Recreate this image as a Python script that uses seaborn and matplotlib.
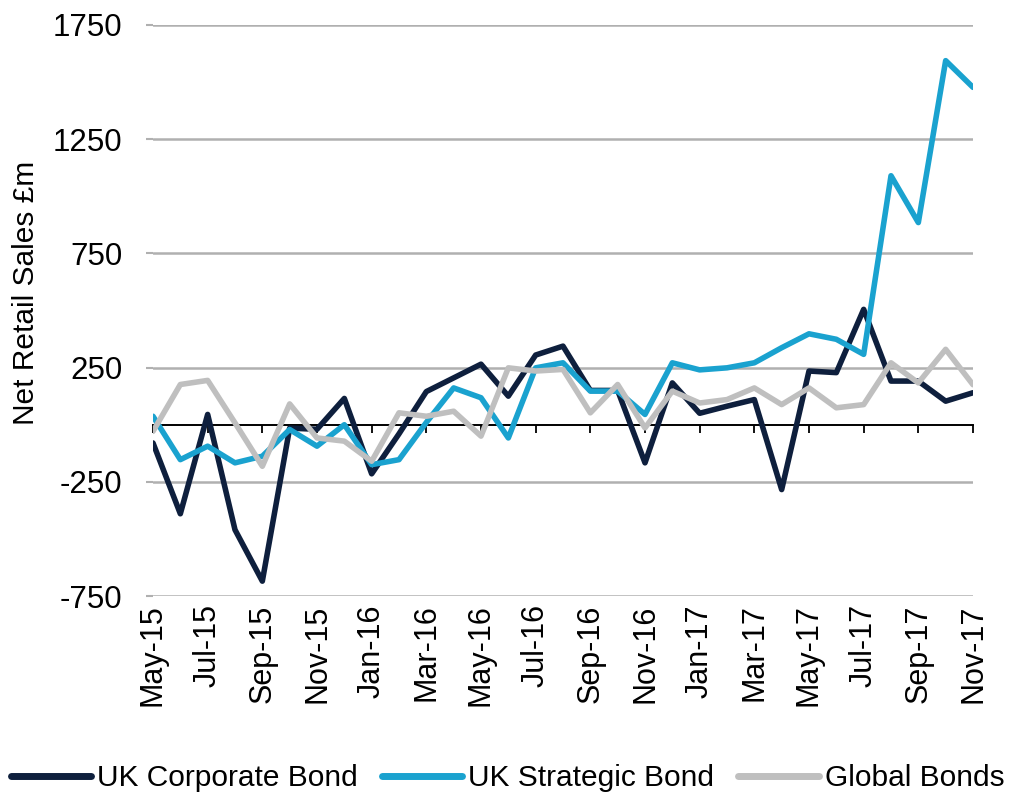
import numpy as np
import pandas as pd
import matplotlib
matplotlib.use("Agg")
import matplotlib.pyplot as plt
import seaborn as sns

months = ["May-15", "Jun-15", "Jul-15", "Aug-15", "Sep-15", "Oct-15", "Nov-15", "Dec-15",
          "Jan-16", "Feb-16", "Mar-16", "Apr-16", "May-16", "Jun-16", "Jul-16", "Aug-16",
          "Sep-16", "Oct-16", "Nov-16", "Dec-16", "Jan-17", "Feb-17", "Mar-17", "Apr-17",
          "May-17", "Jun-17", "Jul-17", "Aug-17", "Sep-17", "Oct-17", "Nov-17"]

uk_corporate = [-80, -390, 45, -460, -685, -15, -20, 115, -215, -40, 145, 205, 265, 125, 305, 344,
                150, 150, -167, 183, 50, 81, 110, -284, 235, 228, 505, 191, 191, 103, 140]
uk_strategic = [37, -153, -94, -167, -138, -21, -94, 0, -175, -153, 10, 161, 118, -58, 249, 271,
                147, 147, 45, 271, 240, 249, 271, 337, 398, 374, 308, 1090, 885, 1594, 1477]
global_bonds = [-29, 176, 194, 8, -182, 91, -58, -72, -160, 52, 37, 59, -50, 249, 235, 242,
                52, 176, -14, 147, 95, 110, 161, 88, 161, 74, 88, 271, 183, 330, 175]

series_names = ["UK Corporate Bond", "UK Strategic Bond", "Global Bonds"]
colors = {"UK Corporate Bond": "#0e1f3d", "UK Strategic Bond": "#1aa2cf", "Global Bonds": "#bfbfbf"}
y_ticks = [-750, -250, 250, 750, 1250, 1750]

rows = []
for name, vals in zip(series_names, [uk_corporate, uk_strategic, global_bonds]):
    for i, v in enumerate(vals):
        rows.append({"idx": i, "month": months[i], "value": v, "series": name})
df = pd.DataFrame(rows)

sns.set_style("white")
plt.rcParams["font.family"] = ["Liberation Sans", "DejaVu Sans"]
plt.rcParams["text.color"] = "black"
plt.rcParams["axes.labelcolor"] = "black"
plt.rcParams["xtick.labelcolor"] = "black"
plt.rcParams["ytick.labelcolor"] = "black"

fig = plt.figure(figsize=(10.15, 7.98), dpi=100)
ax = fig.add_axes([153 / 1015, 1 - 596 / 798, 820 / 1015, 571 / 798])

sns.lineplot(data=df, x="idx", y="value", hue="series", hue_order=series_names,
             palette=colors, linewidth=4.0, ax=ax, legend=True)

ax.set_xlim(0, len(months) - 1)
ax.set_ylim(y_ticks[0], y_ticks[-1])
ax.set_yticks(y_ticks)
ax.set_yticklabels([str(t) for t in y_ticks])
ax.yaxis.grid(True, color="#b0b0b0", linewidth=1.8, zorder=0)
ax.xaxis.grid(False)
ax.set_axisbelow(True)
for s in ax.spines.values():
    s.set_visible(False)

xt = list(range(0, len(months), 2))
ax.set_xticks(xt)
ax.set_xticklabels([months[i] for i in xt], rotation=90, fontsize=22)
ax.tick_params(axis="x", length=0, pad=6, labelcolor="black")
ax.tick_params(axis="y", labelsize=22.5, length=5, width=1.5, color="#b0b0b0", pad=17,
               left=True, labelcolor="black")
ax.set_xlabel("")
ax.set_ylabel("Net Retail Sales £m", fontsize=21.5, color="black")
ax.yaxis.set_label_coords(-0.138, 0.53)

# zero axis with tick marks
ylo, yhi = ax.get_ylim()
zero_loc = (0 - ylo) / (yhi - ylo)
sec = ax.secondary_xaxis(zero_loc)
sec.set_xticks(xt)
sec.tick_params(axis="x", length=6, width=1.3, color="black", direction="out", labelbottom=False)
sec.spines["bottom"].set_color("black")
sec.spines["bottom"].set_linewidth(1.4)
sec.set_zorder(1)

handles, labels = ax.get_legend_handles_labels()
ax.legend_.remove()
leg = fig.legend(handles, labels, loc="center", bbox_to_anchor=(0.5, 0.025), ncol=3,
                 frameon=False, fontsize=21.5, handlelength=2.7, handletextpad=0.2,
                 columnspacing=0.8, borderaxespad=0, labelcolor="black")
for h in leg.legend_handles:
    h.set_linewidth(5)

fig.savefig("out.png", dpi=100)
